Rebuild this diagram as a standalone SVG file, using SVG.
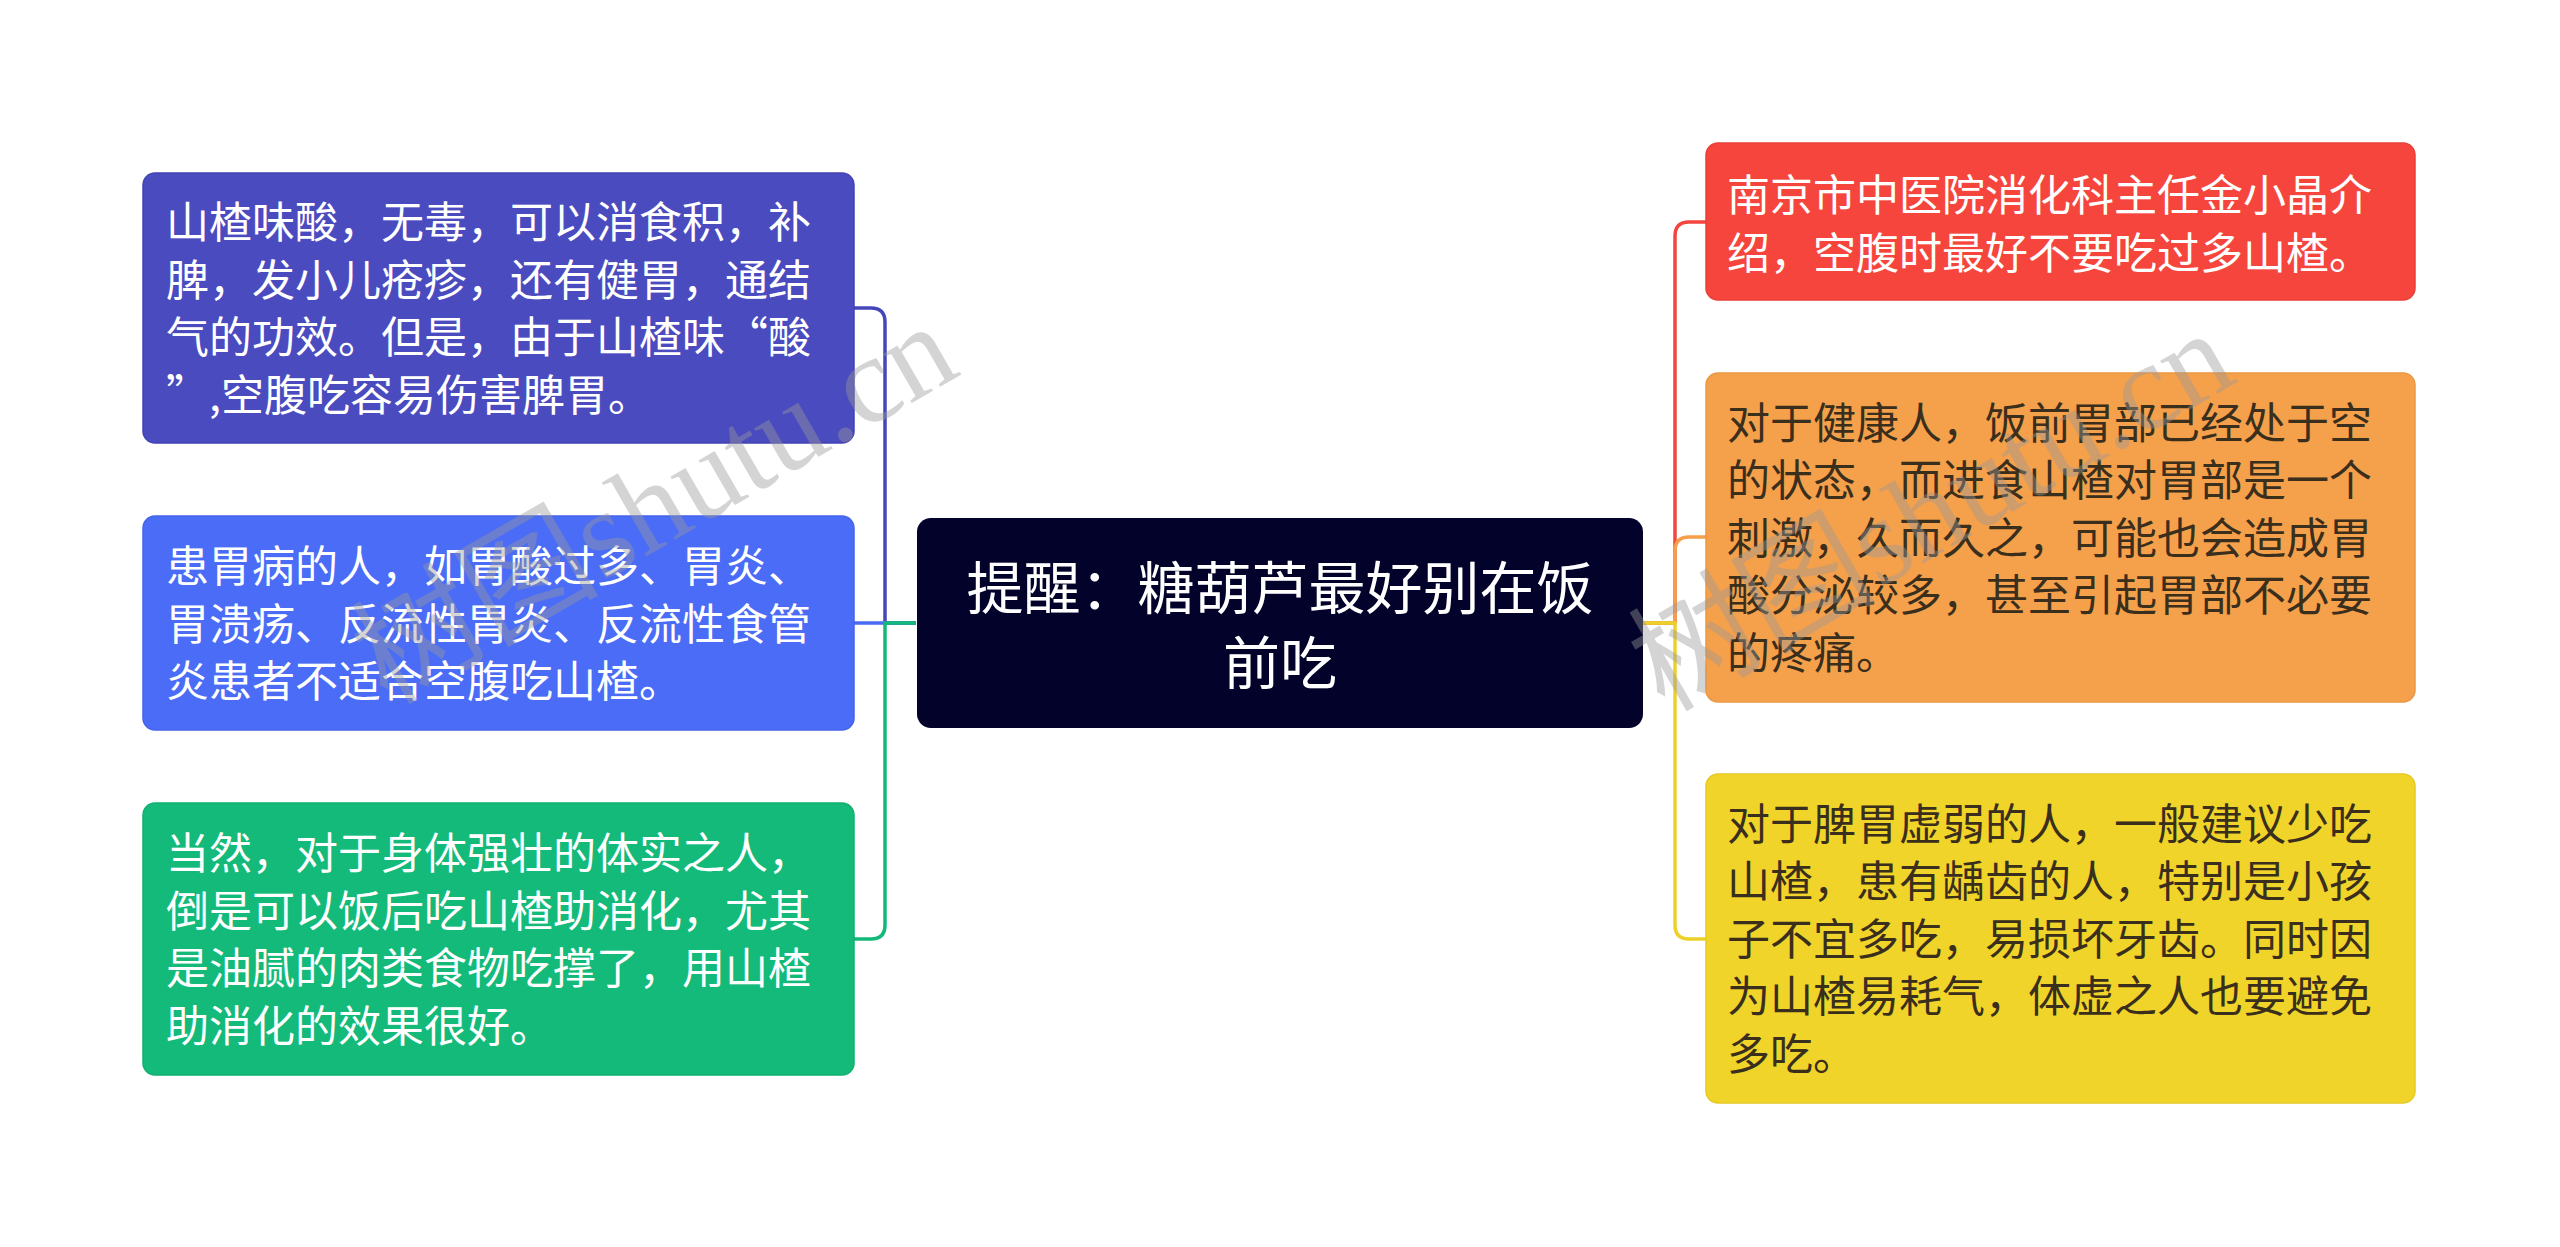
<svg xmlns="http://www.w3.org/2000/svg" width="2560" height="1247" viewBox="0 0 2560 1247">
<style>
.t{font-family:"Noto Sans CJK SC","Noto Sans",sans-serif;font-size:43px;}
.w{fill:#ffffff;}
.d{fill:#3a2e1c;}
.c{font-family:"Noto Sans CJK SC","Noto Sans",sans-serif;font-size:57px;fill:#ffffff;text-anchor:middle;}
.ln{fill:none;stroke-width:3.5;stroke-linejoin:round;}
.wm{font-family:"Liberation Serif","Noto Sans CJK SC",serif;font-size:124px;fill:#999999;fill-opacity:0.42;text-anchor:middle;}
</style>
<rect width="2560" height="1247" fill="#ffffff"/>
<g id="connectors">
<path class="ln" stroke="#4646bb" d="M916,623 H885 V322 Q885,308 871,308 H854"/>
<path class="ln" stroke="#4a6cf5" d="M916,623 H854"/>
<path class="ln" stroke="#13b979" d="M916,623 H885 V925 Q885,939 871,939 H854"/>
<path class="ln" stroke="#f4463e" d="M1643,623 H1675 V236 Q1675,222 1689,222 H1706"/>
<path class="ln" stroke="#f4a04b" d="M1643,623 H1675 V551 Q1675,537 1689,537 H1706"/>
<path class="ln" stroke="#ecd12a" d="M1643,623 H1675 V925 Q1675,939 1689,939 H1706"/>
</g>
<g id="center">
<rect x="917" y="518" width="726" height="210" rx="14" fill="#02022a"/>
<text class="c"><tspan x="1280" y="609">提醒：糖葫芦最好别在饭</tspan><tspan x="1280" y="684">前吃</tspan></text>
</g>
<g id="left1">
<rect x="143" y="173" width="711" height="270" rx="12" fill="#4b4bc0" stroke="#4343b5" stroke-width="1.5"/>
<text class="t w"><tspan x="166" y="238">山楂味酸，无毒，可以消食积，补</tspan><tspan x="166" y="295.5">脾，发小儿疮疹，还有健胃，通结</tspan><tspan x="166" y="353">气的功效。但是，由于山楂味“酸</tspan><tspan x="166" y="410.5">”,空腹吃容易伤害脾胃。</tspan></text>
</g>
<g id="left2">
<rect x="143" y="516" width="711" height="214" rx="12" fill="#4a6cf6" stroke="#4464ea" stroke-width="1.5"/>
<text class="t w"><tspan x="166" y="582">患胃病的人，如胃酸过多、胃炎、</tspan><tspan x="166" y="639.5">胃溃疡、反流性胃炎、反流性食管</tspan><tspan x="166" y="697">炎患者不适合空腹吃山楂。</tspan></text>
</g>
<g id="left3">
<rect x="143" y="803" width="711" height="272" rx="12" fill="#13ba79" stroke="#10b070" stroke-width="1.5"/>
<text class="t w"><tspan x="166" y="869">当然，对于身体强壮的体实之人，</tspan><tspan x="166" y="926.5">倒是可以饭后吃山楂助消化，尤其</tspan><tspan x="166" y="984">是油腻的肉类食物吃撑了，用山楂</tspan><tspan x="166" y="1041.5">助消化的效果很好。</tspan></text>
</g>
<g id="right1">
<rect x="1706" y="143" width="709" height="157" rx="12" fill="#f5453d" stroke="#e93f37" stroke-width="1.5"/>
<text class="t w"><tspan x="1727" y="211">南京市中医院消化科主任金小晶介</tspan><tspan x="1727" y="268.5">绍，空腹时最好不要吃过多山楂。</tspan></text>
</g>
<g id="right2">
<rect x="1706" y="373" width="709" height="329" rx="12" fill="#f5a04b" stroke="#eb9742" stroke-width="1.5"/>
<text class="t d"><tspan x="1727" y="438.5">对于健康人，饭前胃部已经处于空</tspan><tspan x="1727" y="496">的状态，而进食山楂对胃部是一个</tspan><tspan x="1727" y="553.5">刺激，久而久之，可能也会造成胃</tspan><tspan x="1727" y="611">酸分泌较多，甚至引起胃部不必要</tspan><tspan x="1727" y="668.5">的疼痛。</tspan></text>
</g>
<g id="right3">
<rect x="1706" y="774" width="709" height="329" rx="12" fill="#f1d42a" stroke="#e6c923" stroke-width="1.5"/>
<text class="t d"><tspan x="1727" y="839.5">对于脾胃虚弱的人，一般建议少吃</tspan><tspan x="1727" y="897">山楂，患有龋齿的人，特别是小孩</tspan><tspan x="1727" y="954.5">子不宜多吃，易损坏牙齿。同时因</tspan><tspan x="1727" y="1012">为山楂易耗气，体虚之人也要避免</tspan><tspan x="1727" y="1069.5">多吃。</tspan></text>
</g>
<g id="watermarks">
<text class="wm" transform="translate(655,505) rotate(-30)" x="0" y="40">树图shutu.cn</text>
<text class="wm" transform="translate(1932,512) rotate(-30)" x="0" y="40">树图shutu.cn</text>
</g>
</svg>
